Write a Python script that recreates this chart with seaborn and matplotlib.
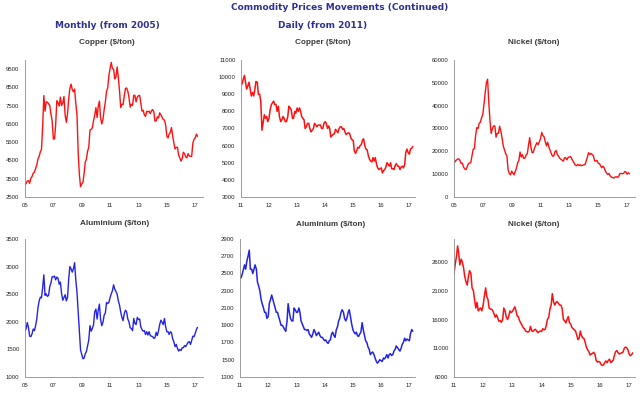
import numpy as np
import pandas as pd
import matplotlib
matplotlib.use("Agg")
import matplotlib.pyplot as plt
import matplotlib.dates as mdates
import matplotlib.ticker as mticker
import seaborn as sns

sns.set_style("white")
plt.rcParams['font.family'] = ['DejaVu Sans']

# monthly averages, Jan 2005 - Mar 2017 ($/ton)
copper_monthly = [
    3170, 3250, 3380, 3390, 3250, 3530, 3620, 3800, 3860, 4060, 4270, 4580,
    4730, 4980, 5100, 6380, 8050, 7200, 7710, 7690, 7600, 7500, 7030, 6680,
    5670, 5680, 6450, 7770, 7660, 7480, 7970, 7510, 7650, 8000, 6960, 6590,
    7060, 7890, 8440, 8680, 8380, 8260, 8410, 7630, 6990, 4930, 3720, 3070,
    3220, 3310, 3750, 4410, 4570, 5010, 5220, 6160, 6200, 6290, 6680, 6980,
    7390, 6850, 7460, 7750, 6840, 6500, 6740, 7280, 7710, 8290, 8470, 9150,
    9550, 9870, 9530, 9490, 8960, 9070, 9620, 9040, 8310, 7390, 7580, 7560,
    8040, 8440, 8470, 8290, 7960, 7420, 7580, 7510, 8070, 8060, 7710, 7960,
    8050, 8060, 7650, 7200, 7250, 7000, 6910, 7190, 7160, 7200, 7070, 7220,
    7290, 7150, 6650, 6670, 6890, 6820, 7110, 7000, 6870, 6740, 6710, 6450,
    5830, 5730, 5940, 6040, 6300, 5830, 5460, 5130, 5220, 5220, 4800, 4640,
    4470, 4600, 4950, 4870, 4700, 4640, 4870, 4750, 4720, 4730, 5450, 5660,
    5740, 5940, 5820]

aluminium_monthly = [
    1835, 1883, 1987, 1894, 1740, 1731, 1781, 1869, 1840, 1929, 2054, 2255,
    2380, 2447, 2432, 2620, 2851, 2479, 2506, 2460, 2480, 2640, 2706, 2816,
    2810, 2830, 2760, 2810, 2790, 2680, 2720, 2510, 2390, 2440, 2490, 2380,
    2440, 2780, 3000, 2960, 2900, 2960, 3070, 2760, 2530, 2170, 1830, 1490,
    1410, 1330, 1340, 1420, 1460, 1570, 1670, 1930, 1830, 1880, 1950, 2180,
    2230, 2050, 2210, 2320, 2040, 1930, 1990, 2120, 2160, 2350, 2330, 2350,
    2440, 2510, 2560, 2670, 2590, 2550, 2500, 2380, 2300, 2180, 2080, 2020,
    2150, 2210, 2180, 2050, 2000, 1890, 1880, 1840, 2060, 1970, 1950, 2080,
    2040, 2050, 1910, 1860, 1830, 1840, 1770, 1820, 1760, 1820, 1750, 1740,
    1730, 1700, 1710, 1810, 1750, 1840, 1950, 2030, 1990, 1950, 2060, 1910,
    1820, 1820, 1770, 1820, 1800, 1690, 1640, 1550, 1590, 1520, 1470, 1500,
    1480, 1530, 1530, 1570, 1550, 1590, 1630, 1640, 1590, 1660, 1740, 1730,
    1790, 1860, 1900]

nickel_monthly = [
    14900, 15600, 16200, 16600, 16700, 16000, 14700, 14800, 13100, 12300, 12000, 13300,
    14600, 14900, 15000, 17900, 20900, 21100, 26700, 30400, 30000, 32300, 32800, 34800,
    36100, 41100, 45500, 50000, 51600, 41500, 33500, 27800, 29900, 31100, 31100, 26200,
    27900, 27900, 31000, 28900, 26000, 22400, 20700, 19000, 18000, 12100, 10300, 9700,
    11300, 10400, 9700, 11200, 12600, 15000, 15900, 19700, 17500, 18500, 16900, 17000,
    18400, 19000, 22500, 26000, 22100, 19400, 19500, 21400, 22600, 23800, 22900, 24100,
    25600, 28300, 26900, 26400, 24200, 22400, 24000, 21800, 20400, 19000, 17900, 17900,
    19800, 20400, 18600, 17900, 17000, 16500, 16100, 15700, 17200, 17200, 16300, 17400,
    17500, 17700, 16700, 15700, 14900, 14000, 13700, 14300, 13800, 14100, 13700, 13900,
    14100, 14200, 15700, 17400, 19400, 18600, 19100, 18600, 18000, 15800, 15800, 16000,
    14800, 14600, 13700, 12800, 13500, 12800, 11400, 10400, 9900, 10300, 9200, 8700,
    8500, 8300, 8700, 8900, 8600, 8900, 10300, 10300, 10200, 10300, 11100, 11000,
    10000, 10600, 10200]

# daily prices read twice a month (1st and 15th), Jan 2011 - Feb 2017 ($/ton)
copper_daily = [
    9600, 9600, 9900, 10100, 9700, 9300, 9500, 9700, 9300, 8900, 9100, 8900,
    9300, 9750, 9700, 9000, 9000, 8600, 6900, 7300, 7800, 7600, 7700, 7400,
    7600, 8100, 8400, 8500, 8600, 8400, 8400, 8000, 8300, 7700, 7400, 7500,
    7700, 7600, 7400, 7400, 7700, 8300, 8200, 8100, 7600, 7600, 8000, 7900,
    8200, 8000, 8200, 8000, 7700, 7600, 7500, 7000, 7100, 7300, 7300, 7000,
    6800, 6900, 7000, 7300, 7200, 7100, 7200, 7200, 7200, 7000, 7000, 7300,
    7400, 7300, 7000, 7150, 7000, 6500, 6600, 6650, 6700, 6950, 6850, 6750,
    7000, 7100, 7100, 6950, 7000, 6800, 6650, 6700, 6750, 6700, 6450, 6350,
    6300, 5700, 5550, 5700, 5900, 5850, 6000, 6050, 6300, 6400, 6000, 5800,
    5750, 5450, 5200, 5100, 5050, 5300, 5100, 5300, 4900, 4700, 4600, 4650,
    4700, 4400, 4550, 4600, 4750, 5000, 4900, 4800, 5000, 4650, 4650, 4600,
    4850, 4950, 4800, 4800, 4600, 4750, 4800, 4700, 4900, 5600, 5800, 5600,
    5500, 5800, 5850, 5950]

aluminium_daily = [
    2450, 2450, 2500, 2550, 2600, 2550, 2650, 2700, 2770, 2550, 2550, 2500,
    2550, 2600, 2550, 2400, 2350, 2300, 2200, 2150, 2100, 2050, 2050, 1980,
    2000, 2150, 2200, 2250, 2200, 2150, 2100, 2050, 2050, 2000, 1950, 1900,
    1900, 1880, 1850, 1830, 1950, 2150, 2050, 1980, 1950, 1950, 2100, 2080,
    2050, 2050, 2100, 2050, 1950, 1920, 1880, 1850, 1850, 1840, 1850, 1800,
    1780, 1760, 1800, 1850, 1820, 1780, 1800, 1820, 1780, 1760, 1760, 1740,
    1720, 1730, 1700, 1690, 1720, 1730, 1800, 1820, 1780, 1760, 1850, 1880,
    1950, 1980, 2050, 2080, 2050, 1980, 1950, 1980, 2050, 2080, 2000, 1920,
    1850, 1820, 1800, 1820, 1780, 1770, 1800, 1820, 1930, 1850, 1780, 1720,
    1700, 1650, 1620, 1560, 1580, 1590, 1560, 1520, 1480, 1460, 1480, 1500,
    1490, 1480, 1520, 1510, 1530, 1560, 1520, 1560, 1570, 1550, 1560, 1600,
    1620, 1660, 1640, 1620, 1600, 1630, 1680, 1700, 1750, 1720, 1740, 1730,
    1720, 1800, 1850, 1830]

nickel_daily = [
    24000, 25500, 27000, 28800, 27500, 25500, 26500, 26000, 25000, 23500, 22500, 22000,
    23500, 24500, 24000, 21500, 21000, 19500, 18000, 19000, 17500, 17800, 18000, 17500,
    18500, 20000, 21500, 20000, 19500, 18000, 17800, 17800, 17500, 17000, 16400, 16800,
    16300, 15700, 15800, 15500, 16000, 18000, 17500, 16500, 16000, 16500, 17500, 17200,
    17400, 17800, 18200, 17500, 16600, 16500, 15800, 15400, 15000, 14600, 14400, 14000,
    13900, 13800, 14000, 14800, 14000, 13900, 14200, 14300, 14000, 13700, 13900, 14000,
    13900, 14400, 14200, 14300, 15000, 16000, 16400, 17800, 18500, 20500, 19000, 18500,
    19000, 19100, 18800, 18500, 18500, 17900, 16000, 15800, 15400, 16000, 16500, 15500,
    15200, 14600, 14400, 14200, 14000, 13400, 12500, 12700, 14000, 13200, 12800, 12700,
    12000, 11200, 10700, 10400, 9800, 10000, 10100, 10300, 9900, 8900, 8600, 8700,
    8600, 8200, 8000, 8100, 8500, 8800, 8500, 8900, 9100, 8500, 8700, 8900,
    9800, 10400, 10600, 10200, 10000, 10100, 10200, 10300, 11000, 11200, 11100, 10800,
    10000, 9700, 9900, 10200]

monthly_dates = pd.date_range("2005-01-01", periods=len(copper_monthly), freq="MS")
daily_dates = pd.date_range("2011-01-01", periods=len(copper_daily), freq="SMS")

RED = "#ff1010"
BLUE = "#2424e6"
GREY = "#8c8c8c"
TITLE_BLUE = "#2e3192"

fig = plt.figure(figsize=(6.4, 3.97), dpi=100)

def rect(x0, x1, ytop, ybot):
    return [x0 / 640, 1 - ybot / 397, (x1 - x0) / 640, (ybot - ytop) / 397]


def panel(r, dates, values, color, ylim, step, years, xend, lw):
    ax = fig.add_axes(r)
    df = pd.DataFrame({"date": dates, "price": values})
    sns.lineplot(data=df, x="date", y="price", color=color, linewidth=lw, ax=ax)
    ax.set_xlabel("")
    ax.set_ylabel("")
    ax.set_ylim(*ylim)
    ax.set_yticks(np.arange(ylim[0], ylim[1] + 1, step))
    ticks = [mdates.date2num(pd.Timestamp(f"{y}-01-01")) for y in years]
    ax.set_xticks(ticks)
    ax.set_xticklabels([f"{y % 100:02d}" for y in years])
    ax.set_xlim(ticks[0], mdates.date2num(pd.Timestamp(xend)))
    ax.yaxis.set_major_formatter(mticker.FuncFormatter(lambda v, p: f"{int(v)}"))
    for s in ["top", "right"]:
        ax.spines[s].set_visible(False)
    for s in ["left", "bottom"]:
        ax.spines[s].set_color(GREY)
        ax.spines[s].set_linewidth(0.6)
    ax.tick_params(axis="both", direction="out", length=2, width=0.5, color=GREY,
                   pad=2, labelsize=4.3, labelcolor="#222222")
    for t in ax.get_xticklabels() + ax.get_yticklabels():
        t.set_fontfamily("Liberation Sans")
    ax.set_facecolor("white")
    return ax


odd_years = list(range(2005, 2018, 2))
day_years = list(range(2011, 2018))

panel(rect(25, 203, 60, 197), monthly_dates, copper_monthly, RED,
      (2500, 10000), 1000, odd_years, "2017-07-20", 1.0)
panel(rect(241, 415, 60, 197), daily_dates, copper_daily, RED,
      (3000, 11000), 1000, day_years, "2017-03-15", 1.1)
panel(rect(454, 635, 60, 197), monthly_dates, nickel_monthly, RED,
      (0, 60000), 10000, odd_years, "2017-07-20", 1.0)
panel(rect(25, 203, 239, 377), monthly_dates, aluminium_monthly, BLUE,
      (1000, 3500), 500, odd_years, "2017-07-20", 1.0)
panel(rect(240, 415, 239, 377), daily_dates, aluminium_daily, BLUE,
      (1300, 2900), 200, day_years, "2017-03-15", 1.1)
ax6 = panel(rect(454, 635, 239, 377), daily_dates, nickel_daily, RED,
            (6000, 30000), 5000, day_years, "2017-03-15", 1.1)
ax6.set_yticks(np.arange(6000, 26001, 5000))

fig.text(340 / 640, 1 - 8 / 397, "Commodity Prices Movements (Continued)", ha="center",
         va="center", fontsize=6.5, fontweight="bold", color=TITLE_BLUE)
fig.text(107 / 640, 1 - 26 / 397, "Monthly (from 2005)", ha="center", va="center",
         fontsize=6.5, fontweight="bold", color=TITLE_BLUE)
fig.text(323 / 640, 1 - 26 / 397, "Daily (from 2011)", ha="center", va="center",
         fontsize=6.5, fontweight="bold", color=TITLE_BLUE)

subtitles = [(107, 43, "Copper ($/ton)"), (323, 43, "Copper ($/ton)"),
             (534, 43, "Nickel ($/ton)"), (115, 223, "Aluminium ($/ton)"),
             (331, 224, "Aluminium ($/ton)"), (534, 224, "Nickel ($/ton)")]
for x, y, s in subtitles:
    fig.text(x / 640, 1 - y / 397, s, ha="center", va="center", fontsize=5.9,
             fontweight="bold", family="Liberation Sans", color="#3a3a3a")

fig.savefig("out.png", dpi=100, facecolor="white")
